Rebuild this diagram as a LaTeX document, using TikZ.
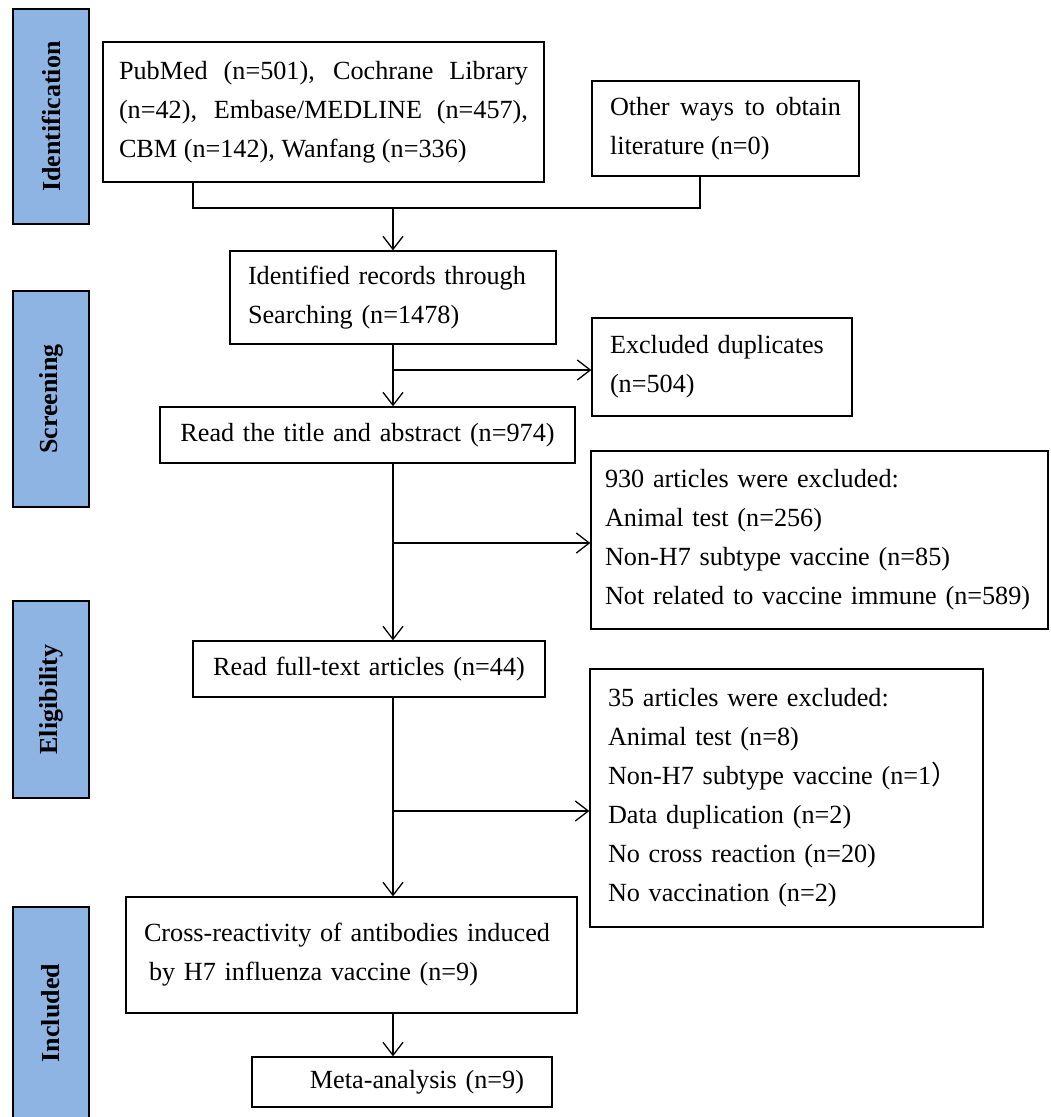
\documentclass[tikz,border=0pt]{standalone}
\usepackage{fontspec}
\setmainfont{Liberation Serif}
\newfontfamily\cjk{Noto Sans CJK SC}
\usetikzlibrary{arrows.meta}
\definecolor{phaseblue}{RGB}{142,180,227}

\begin{document}
\begin{tikzpicture}[x=1pt, y=-1pt,
  box/.style={draw, fill=white, line width=1.3pt, inner xsep=18pt, inner ysep=0pt,
    align=left, font=\fontsize{26.2}{39}\selectfont},
  phase/.style={draw, fill=phaseblue, line width=1.3pt, rotate=90, inner sep=0pt,
    minimum height=76pt, font=\fontsize{26}{30}\selectfont\bfseries},
  link/.style={line width=1.3pt},
  arr/.style={link, -{Straight Barb[length=13pt, width=20pt]}}]

\useasboundingbox (0, 0) rectangle (1051, 1117);

\node[phase, minimum width=215pt] (idbar) at (51, 116.5) {Identification};
\node[phase, minimum width=216pt] (scrbar) at (51, 399) {Screening};
\node[phase, minimum width=197pt] (eligbar) at (51, 699.5) {Eligibility};
\node[phase, minimum width=212pt] (inclbar) at (51, 1013) {Included};

\node[box, align=justify, inner xsep=16pt, text width=409pt, minimum height=140pt] (src1) at (323.5, 112)
  {PubMed (n=501), Cochrane Library\linebreak (n=42), Embase/MEDLINE (n=457),\linebreak CBM (n=142), Wanfang (n=336)};
\node[box, align=justify, text width=231pt, minimum height=95pt] (src2) at (725.5, 128.5)
  {Other ways to obtain\linebreak literature (n=0)};
\node[box, text width=290pt, minimum height=93pt] (ident) at (393, 297.5)
  {Identified records through\\Searching (n=1478)};
\node[box, text width=224pt, minimum height=98pt] (dup) at (722, 367)
  {Excluded duplicates\\(n=504)};
\node[box, align=center, text width=379pt, minimum height=56pt] (title) at (367.5, 435)
  {Read the title and abstract (n=974)};
\node[box, inner xsep=14pt, text width=429pt, minimum height=178pt] (excl1) at (819.5, 540)
  {930 articles were excluded:\\Animal test (n=256)\\Non-H7 subtype vaccine (n=85)\\Not related to vaccine immune (n=589)};
\node[box, align=center, text width=316pt, minimum height=56pt] (full) at (369, 669)
  {Read full-text articles (n=44)};
\node[box, text width=357pt, minimum height=258pt] (excl2) at (786.5, 798)
  {35 articles were excluded:\\Animal test (n=8)\\Non-H7 subtype vaccine (n=1{\cjk ）}\\Data duplication (n=2)\\No cross reaction (n=20)\\No vaccination (n=2)};
\node[box, text width=415pt, minimum height=116pt] (incl) at (351.5, 955)
  {Cross-reactivity of antibodies induced\\\hspace*{5pt}by H7 influenza vaccine (n=9)};
\node[box, align=center, text width=264pt, minimum height=50pt] (meta) at (402, 1082)
  {\hspace*{30pt}Meta-analysis (n=9)};

\coordinate (j1) at (193, 208);
\coordinate (j2) at (700, 208);
\coordinate (j0) at (393, 208);
\draw[link] (src1.south -| j1) -- (j1) -- (j2) -- (src2.south -| j2);
\draw[arr] (j0) -- (ident.north);

\draw[arr] (ident.south) -- (ident.south |- title.north);
\coordinate (b1) at (393, 370);
\draw[arr] (b1) -- (b1 -| dup.west);

\draw[arr] (ident.south |- title.south) -- (ident.south |- full.north);
\coordinate (b2) at (393, 543);
\draw[arr] (b2) -- (b2 -| excl1.west);

\draw[arr] (ident.south |- full.south) -- (ident.south |- incl.north);
\coordinate (b3) at (393, 811);
\draw[arr] (b3) -- (b3 -| excl2.west);

\draw[arr] (ident.south |- incl.south) -- (ident.south |- meta.north);

\end{tikzpicture}
\end{document}
